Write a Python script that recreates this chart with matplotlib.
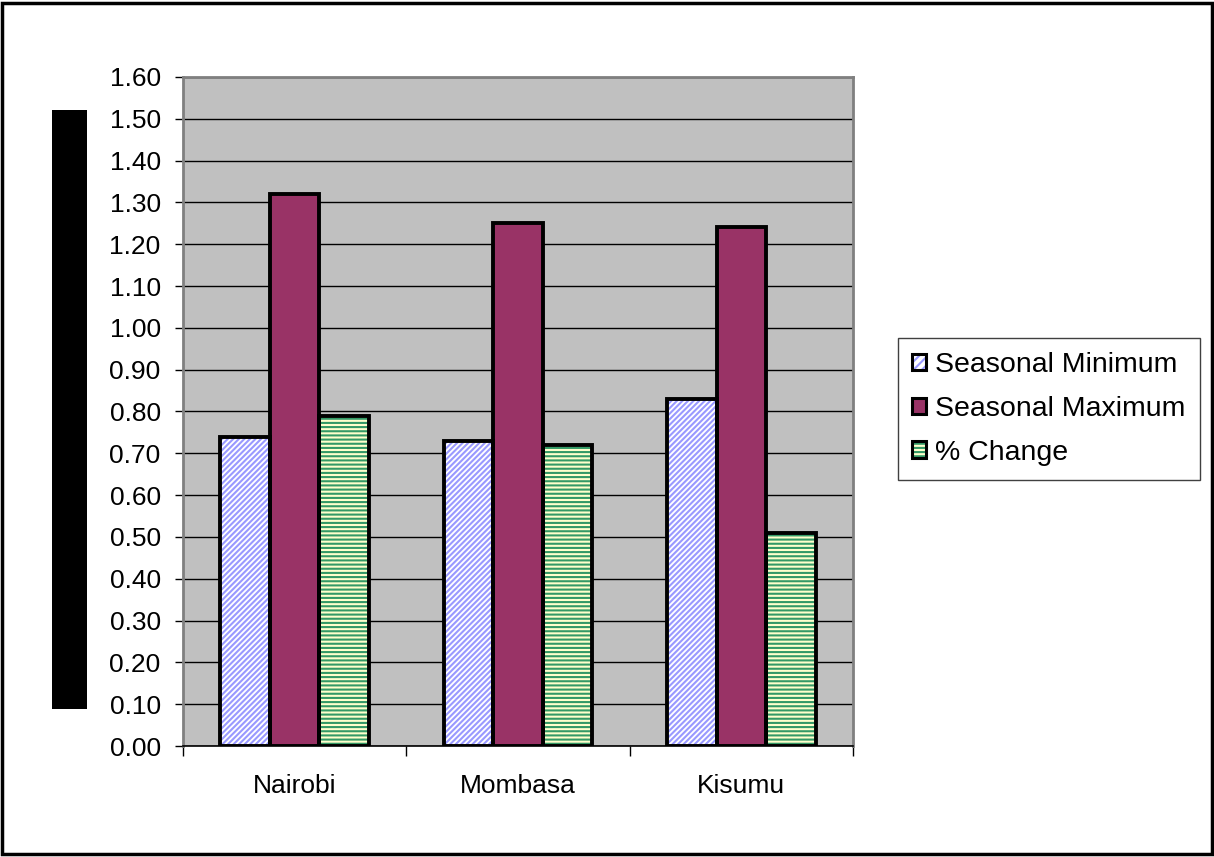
import matplotlib.pyplot as plt
import numpy as np
from matplotlib.patches import Rectangle, Patch
from matplotlib.legend_handler import HandlerTuple

plt.rcParams['font.family'] = ['Liberation Sans', 'DejaVu Sans']
plt.rcParams['hatch.linewidth'] = 1.5

cities = ["Nairobi", "Mombasa", "Kisumu"]
seasonal_min = [0.74, 0.73, 0.83]
seasonal_max = [1.32, 1.25, 1.24]
pct_change = [0.79, 0.72, 0.51]
y_ticks = np.arange(0, 1.61, 0.1)

fig = plt.figure(figsize=(12.14, 8.57), dpi=100)
ax = fig.add_axes([0.1507, 0.1295, 0.552, 0.7807])
ax.set_facecolor("#C0C0C0")

x = np.arange(len(cities))
w = 1 / 4.5
series = [
    (seasonal_min, -w, "white", "#9999FF", "//////"),
    (seasonal_max, 0, "#993366", "#993366", None),
    (pct_change, w, "#FFFFCC", "#339966", "----"),
]
for vals, off, face, hcol, hatch in series:
    # fill + hatch first, then a plain black outline on top
    ax.bar(x + off, vals, width=w, color=face, edgecolor=hcol, hatch=hatch,
           linewidth=0, zorder=3)
    ax.bar(x + off, vals, width=w, fill=False, edgecolor="black",
           linewidth=2.8, zorder=4)

ax.set_ylim(0, 1.6)
ax.set_xlim(-0.5, 2.5)
ax.set_yticks(y_ticks)
ax.set_yticklabels([f"{v:.2f}" for v in y_ticks], fontsize=19)
ax.yaxis.grid(True, color="black", linewidth=1.0, zorder=1)
ax.set_axisbelow(True)
ax.tick_params(axis="y", length=6, width=1, pad=10)

# boundary ticks between categories, names in the middle
ax.set_xticks([-0.5, 0.5, 1.5, 2.5])
ax.set_xticklabels([])
ax.tick_params(axis="x", which="major", length=7, width=1)
ax.set_xticks(x, minor=True)
ax.set_xticklabels(cities, minor=True, fontsize=19)
ax.tick_params(axis="x", which="minor", length=0, pad=20)

for side in ["left", "top", "right"]:
    ax.spines[side].set_color("#808080")
    ax.spines[side].set_linewidth(2)
ax.spines["bottom"].set_color("black")
ax.spines["bottom"].set_linewidth(1.2)

handles = [
    (Patch(facecolor="white", edgecolor="#9999FF", hatch="////", linewidth=0),
     Patch(fill=False, edgecolor="black", linewidth=2.2)),
    (Patch(facecolor="#993366", edgecolor="black", linewidth=2.2),),
    (Patch(facecolor="#FFFFCC", edgecolor="#339966", hatch="----", linewidth=0),
     Patch(fill=False, edgecolor="black", linewidth=2.2)),
]
leg = fig.legend(handles, ["Seasonal Minimum", "Seasonal Maximum", "% Change"],
                 handler_map={tuple: HandlerTuple(ndivide=1, pad=0)},
                 loc="upper left", bbox_to_anchor=(898 / 1214, 1 - 338 / 857),
                 fontsize=20.5, frameon=True, fancybox=False, edgecolor="#404040",
                 framealpha=1, handlelength=0.5, handleheight=0.5,
                 handletextpad=0.3, labelspacing=0.62, borderpad=0.5,
                 borderaxespad=0)
leg.get_frame().set_linewidth(1)

# solid block left of the value axis
fig.patches.append(Rectangle((52 / 1214, 1 - 709 / 857), 35 / 1214, 599 / 857,
                             transform=fig.transFigure, facecolor="black",
                             edgecolor="none"))
# chart border
fig.patches.append(Rectangle((0.002, 0.003), 0.996, 0.994,
                             transform=fig.transFigure, fill=False,
                             edgecolor="black", linewidth=2.5))

fig.savefig("out.png", dpi=100)
